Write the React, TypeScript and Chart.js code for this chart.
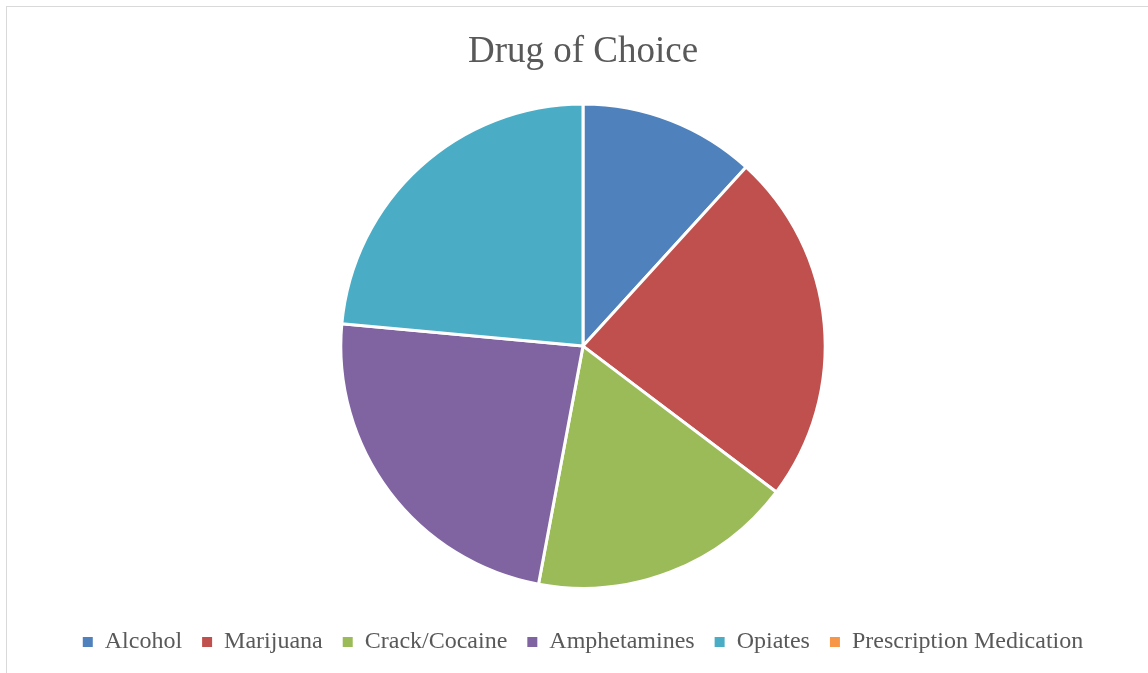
import React, { useEffect, useRef } from "react";
import { Chart, registerables } from "chart.js";

Chart.register(...registerables);

const categories = ["Alcohol", "Marijuana", "Crack/Cocaine", "Amphetamines", "Opiates", "Prescription Medication"];
const counts = [2, 4, 3, 4, 4, 0];
const sliceColors = ["#4F81BD", "#C0504D", "#9BBB59", "#8064A2", "#4BACC6", "#F79646"];
const chartTitle = "Drug of Choice";

export default function App() {
  const ref = useRef<HTMLCanvasElement | null>(null);

  useEffect(() => {
    if (!ref.current) return;
    const defaultLabels = Chart.overrides.pie.plugins.legend.labels.generateLabels;
    const chart = new Chart(ref.current, {
      type: "pie",
      data: {
        labels: categories,
        datasets: [
          {
            data: counts,
            backgroundColor: sliceColors,
            borderColor: "#ffffff",
            borderWidth: 3,
          },
        ],
      },
      options: {
        animation: false,
        responsive: false,
        maintainAspectRatio: false,
        layout: { padding: { top: 0, bottom: 9, left: 0, right: 0 } },
        plugins: {
          title: {
            display: true,
            text: chartTitle,
            color: "#595959",
            font: { family: "'Liberation Serif', serif", size: 37, weight: "normal" },
            padding: { top: 24, bottom: 28 },
          },
          legend: {
            display: true,
            position: "bottom",
            title: { display: true, text: "", font: { size: 1 }, padding: { top: 19, bottom: 0 } },
            labels: {
              color: "#595959",
              font: { family: "'Liberation Serif', serif", size: 24 },
              boxWidth: 10,
              boxHeight: 10,
              padding: 20,
              generateLabels: (c: any) =>
                defaultLabels(c).map((l: any) => ({ ...l, lineWidth: 0, strokeStyle: l.fillStyle })),
            },
          },
          tooltip: { enabled: false },
        },
      },
    });
    return () => chart.destroy();
  }, []);

  return (
    <div style={{ position: "absolute", left: 0, top: 0, width: 1148, height: 673, overflow: "hidden", background: "#fff" }}>
      <div
        style={{
          position: "absolute",
          left: 6,
          top: 6,
          width: 1160,
          height: 700,
          borderLeft: "1px solid #d9d9d9",
          borderTop: "1px solid #d9d9d9",
        }}
      />
      <canvas ref={ref} width={1154} height={667} style={{ position: "absolute", left: 6, top: 6, width: 1154, height: 667 }} />
    </div>
  );
}
